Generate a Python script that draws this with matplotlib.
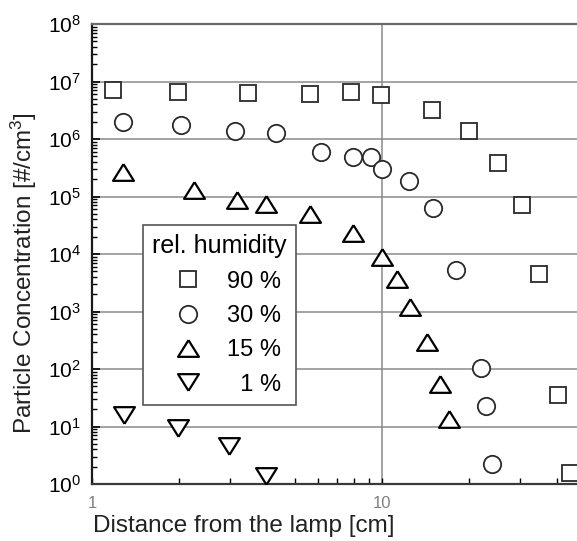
import matplotlib
matplotlib.use("Agg")
import matplotlib.pyplot as plt
from matplotlib.ticker import LogLocator, NullFormatter

plt.rcParams['font.family'] = ['Liberation Sans', 'DejaVu Sans']
plt.rcParams['mathtext.fontset'] = 'custom'
plt.rcParams['mathtext.rm'] = 'Liberation Sans'
plt.rcParams['mathtext.it'] = 'Liberation Sans:italic'

# distance from the lamp [cm] and particle concentration [#/cm^3] per humidity
dist_90 = [1.18, 1.98, 3.45, 5.65, 7.82, 9.9, 14.9, 19.9, 25.1, 30.4, 34.8, 40.5, 44.5]
conc_90 = [7.1e6, 6.6e6, 6.3e6, 6.0e6, 6.6e6, 5.8e6, 3.2e6, 1.4e6, 3.8e5, 7.1e4, 4.5e3, 35, 1.55]

dist_30 = [1.28, 2.03, 3.11, 4.31, 6.16, 7.94, 9.16, 10.0, 12.4, 15.0, 18.0, 21.9, 22.8, 23.9]
conc_30 = [2.0e6, 1.75e6, 1.38e6, 1.27e6, 5.9e5, 4.9e5, 4.9e5, 3.0e5, 1.86e5, 6.3e4, 5.3e3, 104, 22.7, 2.2]

dist_15 = [1.28, 2.25, 3.16, 3.98, 5.65, 7.94, 10.0, 11.3, 12.5, 14.3, 15.8, 17.0]
conc_15 = [2.7e5, 1.3e5, 8.7e4, 7.4e4, 5.0e4, 2.3e4, 8.9e3, 3.7e3, 1.2e3, 295, 55, 13.5]

dist_1 = [1.29, 1.98, 2.97, 3.98]
conc_1 = [15.8, 9.4, 4.6, 1.38]

series_labels = ['90 %', '30 %', '15 %', '  1 %']
x_ticks = [1, 10]
x_tick_labels = ['1', '10']
y_exponents = list(range(0, 9))

tri_up = [(0, 0.8), (-1, -0.8), (1, -0.8), (0, 0.8)]
tri_down = [(0, -0.8), (-1, 0.8), (1, 0.8), (0, -0.8)]

W, H = 577, 541
fig = plt.figure(figsize=(W / 100, H / 100), dpi=100)
ax = fig.add_axes([92 / W, 57 / H, 580 / W, 460 / H])
ax.set_xscale('log')
ax.set_yscale('log')
ax.set_xlim(1, 100)
ax.set_ylim(1, 1e8)

ax.grid(True, which='major', color='#8a8a8a', lw=1.1, zorder=0)
ax.set_axisbelow(True)

common = dict(ls='none', mfc='white', zorder=3)
ax.plot(dist_90, conc_90, marker='s', ms=11.5, mec='#2a2a2a', mew=1.3,
        label=series_labels[0], **common)
ax.plot(dist_30, conc_30, marker='o', ms=12.5, mec='#2a2a2a', mew=1.3,
        label=series_labels[1], **common)
ax.plot(dist_15, conc_15, marker=tri_up, ms=15, mec='black', mew=1.6,
        label=series_labels[2], **common)
ax.plot(dist_1, conc_1, marker=tri_down, ms=15, mec='black', mew=1.6,
        label=series_labels[3], **common)

ax.set_xticks(x_ticks)
ax.set_xticklabels(x_tick_labels)
ax.xaxis.set_minor_locator(LogLocator(base=10, subs=range(2, 10)))
ax.xaxis.set_minor_formatter(NullFormatter())
ax.set_yticks([10.0 ** e for e in y_exponents])
ax.set_yticklabels([r'$\mathregular{10^{%d}}$' % e for e in y_exponents])
ax.yaxis.set_minor_locator(LogLocator(base=10, subs=range(2, 10), numticks=20))
ax.yaxis.set_minor_formatter(NullFormatter())

ax.tick_params(axis='both', which='both', direction='in', top=False, right=False)
ax.tick_params(axis='y', which='major', length=6, width=1.2, labelsize=15, pad=8)
ax.tick_params(axis='y', which='minor', length=3.5, width=1.0)
ax.tick_params(axis='x', which='major', length=4.5, width=1.0, labelsize=12,
               labelcolor='#808080', pad=9)
ax.tick_params(axis='x', which='minor', length=4, width=1.0)

for side in ('left', 'bottom'):
    ax.spines[side].set_linewidth(1.6)
ax.spines['left'].set_color('#1a1a1a')
ax.spines['bottom'].set_color('#3a3a3a')
ax.spines['top'].set_color('#6a6a6a')
ax.spines['top'].set_linewidth(1.6)
ax.spines['right'].set_visible(False)

ax.set_xlabel('Distance from the lamp [cm]', fontsize=17.5, color='#222222')
ax.xaxis.set_label_coords(0.262, -0.068)
ax.set_ylabel(r'Particle Concentration [#/cm$^\mathregular{3}$]', fontsize=17.5,
              color='#222222')
ax.yaxis.set_label_coords(-0.092, 0.459)

leg = ax.legend(title='rel. humidity', loc='upper left',
                bbox_to_anchor=(143 / W, 1 - 225 / H), bbox_transform=fig.transFigure,
                borderaxespad=0, fontsize=17, title_fontsize=18, frameon=True,
                fancybox=False, framealpha=1, edgecolor='#555555',
                borderpad=0.4, handlelength=2.5, handletextpad=0.4,
                labelspacing=0.52, numpoints=1)
leg.get_frame().set_linewidth(1.2)
leg.set_zorder(5)

fig.savefig('out.png', dpi=100)
